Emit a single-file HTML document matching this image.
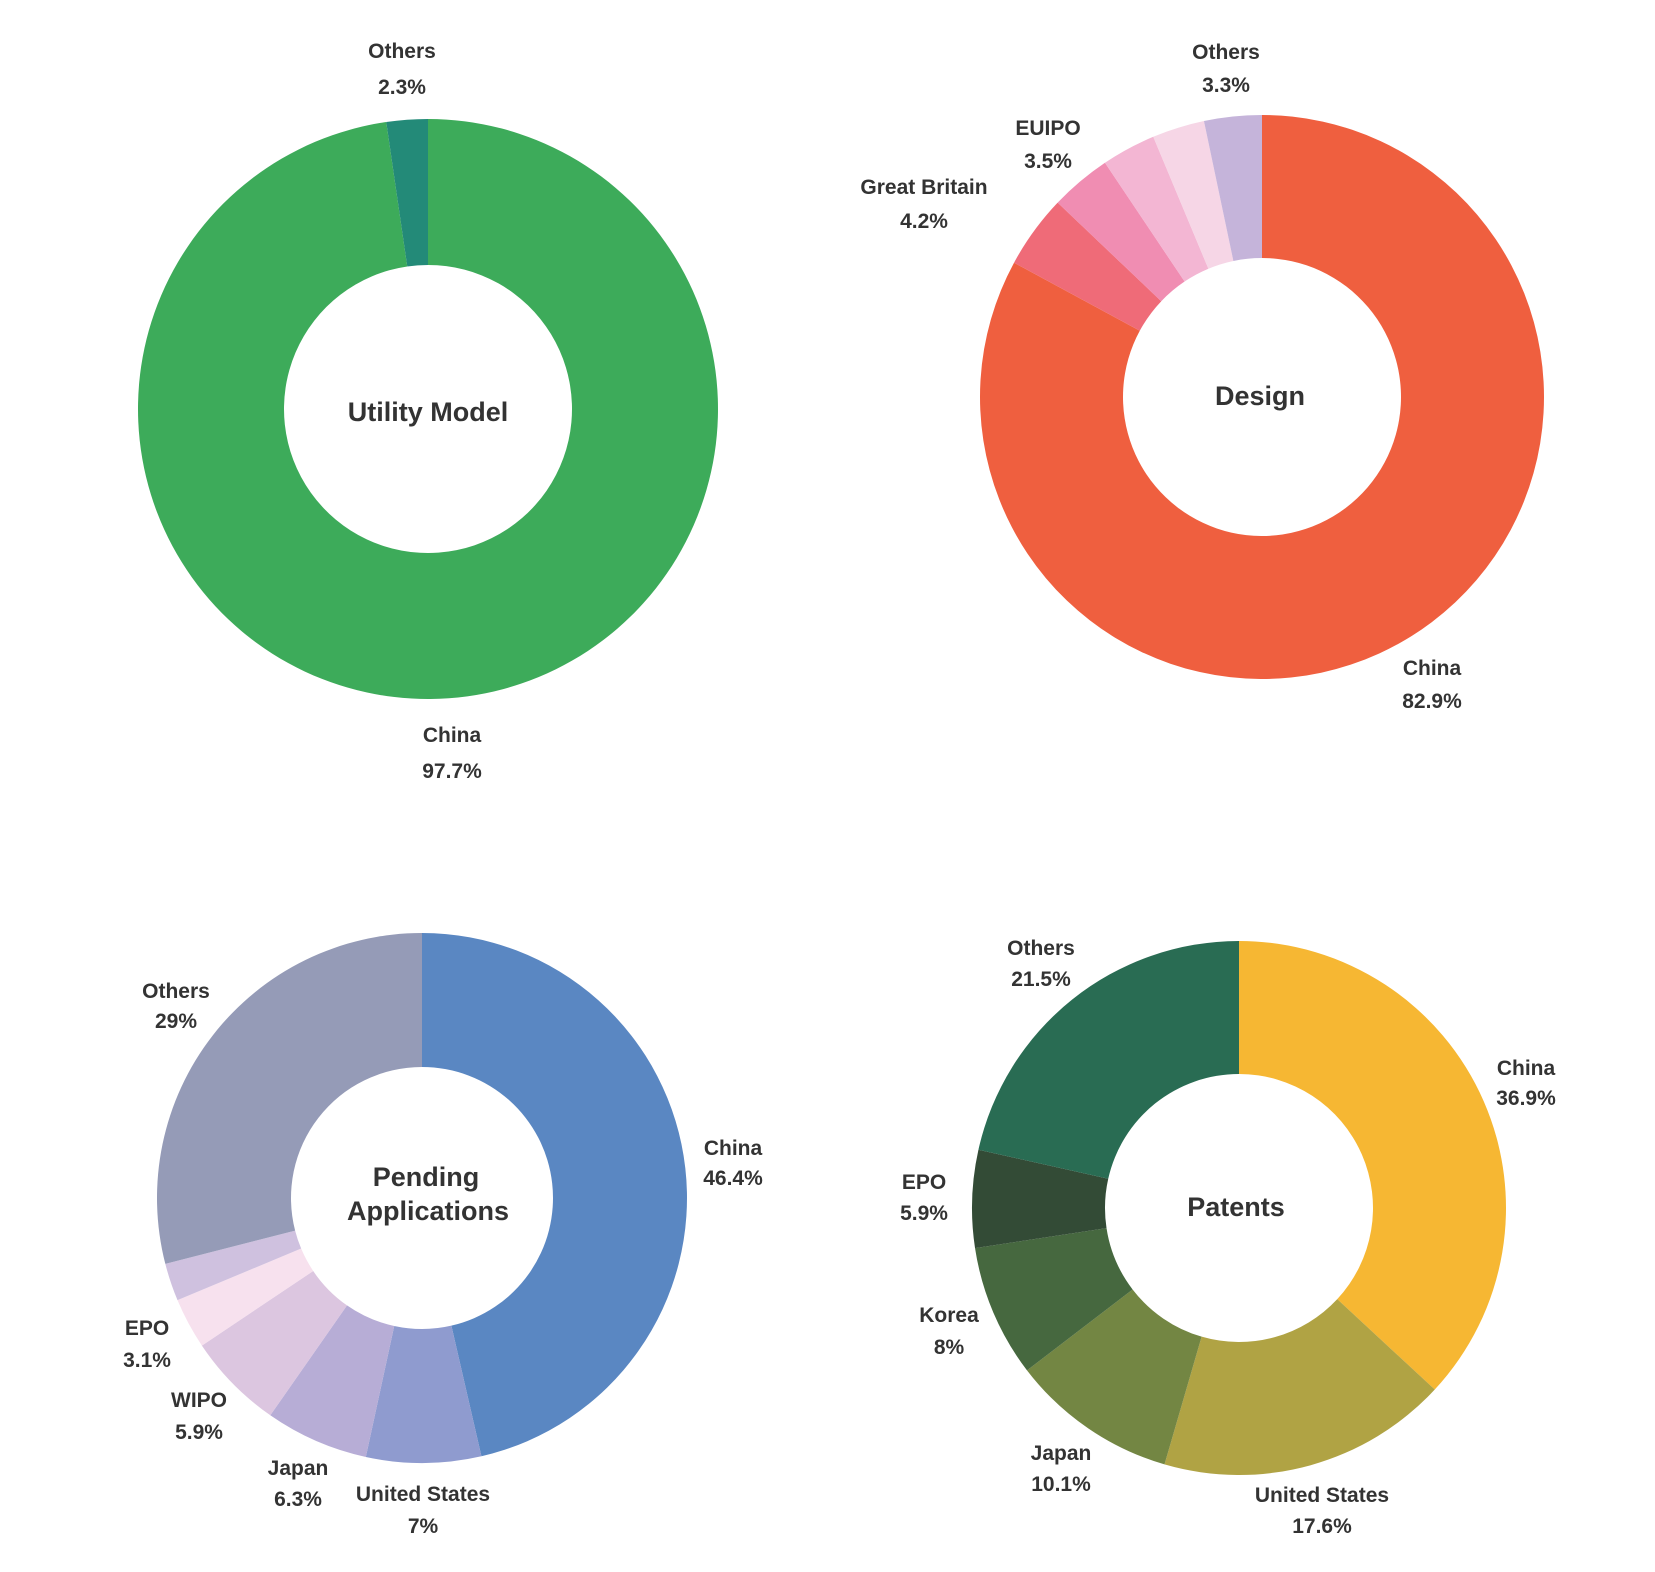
<!DOCTYPE html>
<html><head><meta charset="utf-8"><style>
html,body{margin:0;padding:0;background:#fff}
svg{display:block}
text{font-family:"Liberation Sans",sans-serif;font-weight:bold;fill:#333;text-anchor:middle}
.l{font-size:21px}
.c{font-size:27px}
</style></head><body>
<svg id="s" width="1655" height="1572" viewBox="0 0 1655 1572">
<g id="arcs"></g>
<text class="c" x="428" y="421">Utility Model</text>
<text class="l" x="402" y="58">Others</text><text class="l" x="402" y="94">2.3%</text>
<text class="l" x="452" y="742">China</text><text class="l" x="452" y="778">97.7%</text>

<text class="c" x="1260" y="405">Design</text>
<text class="l" x="1226" y="59">Others</text><text class="l" x="1226" y="92">3.3%</text>
<text class="l" x="1048" y="135">EUIPO</text><text class="l" x="1048" y="168">3.5%</text>
<text class="l" x="924" y="194">Great Britain</text><text class="l" x="924" y="228">4.2%</text>
<text class="l" x="1432" y="675">China</text><text class="l" x="1432" y="708">82.9%</text>

<text class="c" x="426" y="1186">Pending</text><text class="c" x="428" y="1220">Applications</text>
<text class="l" x="176" y="998">Others</text><text class="l" x="176" y="1028">29%</text>
<text class="l" x="733" y="1155">China</text><text class="l" x="733" y="1185">46.4%</text>
<text class="l" x="147" y="1335">EPO</text><text class="l" x="147" y="1367">3.1%</text>
<text class="l" x="199" y="1407">WIPO</text><text class="l" x="199" y="1439">5.9%</text>
<text class="l" x="298" y="1475">Japan</text><text class="l" x="298" y="1506">6.3%</text>
<text class="l" x="423" y="1501">United States</text><text class="l" x="423" y="1533">7%</text>

<text class="c" x="1236" y="1216">Patents</text>
<text class="l" x="1041" y="955">Others</text><text class="l" x="1041" y="986">21.5%</text>
<text class="l" x="1526" y="1075">China</text><text class="l" x="1526" y="1105">36.9%</text>
<text class="l" x="924" y="1189">EPO</text><text class="l" x="924" y="1220">5.9%</text>
<text class="l" x="949" y="1322">Korea</text><text class="l" x="949" y="1354">8%</text>
<text class="l" x="1061" y="1460">Japan</text><text class="l" x="1061" y="1491">10.1%</text>
<text class="l" x="1322" y="1502">United States</text><text class="l" x="1322" y="1533">17.6%</text>
</svg>
<script>
var charts=[
 {cx:428,cy:409,R:290,r:144,d:[[97.7,"#3dab5a"],[2.3,"#238a78"]]},
 {cx:1262,cy:397,R:282,r:139,d:[[82.9,"#ef5f3f"],[4.2,"#ef6b78"],[3.5,"#f08db2"],[3.1,"#f3b6d3"],[3.0,"#f6d6e6"],[3.3,"#c5b4da"]]},
 {cx:422,cy:1198,R:265,r:131,d:[[46.4,"#5a87c2"],[7,"#8f9bcf"],[6.3,"#b7add6"],[5.9,"#dcc6e0"],[3.1,"#f7e1ee"],[2.3,"#cfc1df"],[29,"#959bb7"]]},
 {cx:1239,cy:1208,R:267,r:134,d:[[36.9,"#f6b733"],[17.6,"#b0a344"],[10.1,"#738643"],[8,"#46683f"],[5.9,"#334b36"],[21.5,"#296c53"]]}
];
var g=document.getElementById("arcs"),h="";
function pt(cx,cy,rad,a){return [cx+rad*Math.sin(a),cy-rad*Math.cos(a)];}
charts.forEach(function(c){
 var tot=c.d.reduce(function(s,x){return s+x[0]},0),a=0;
 c.d.forEach(function(x){
  var b=a+x[0]/tot*2*Math.PI,lg=(b-a)>Math.PI?1:0;
  var p1=pt(c.cx,c.cy,c.R,a),p2=pt(c.cx,c.cy,c.R,b),p3=pt(c.cx,c.cy,c.r,b),p4=pt(c.cx,c.cy,c.r,a);
  h+='<path fill="'+x[1]+'" d="M'+p1+' A'+c.R+' '+c.R+' 0 '+lg+' 1 '+p2+' L'+p3+' A'+c.r+' '+c.r+' 0 '+lg+' 0 '+p4+'Z"/>';
  a=b;
 });
});
g.innerHTML=h;
</script>
</body></html>
